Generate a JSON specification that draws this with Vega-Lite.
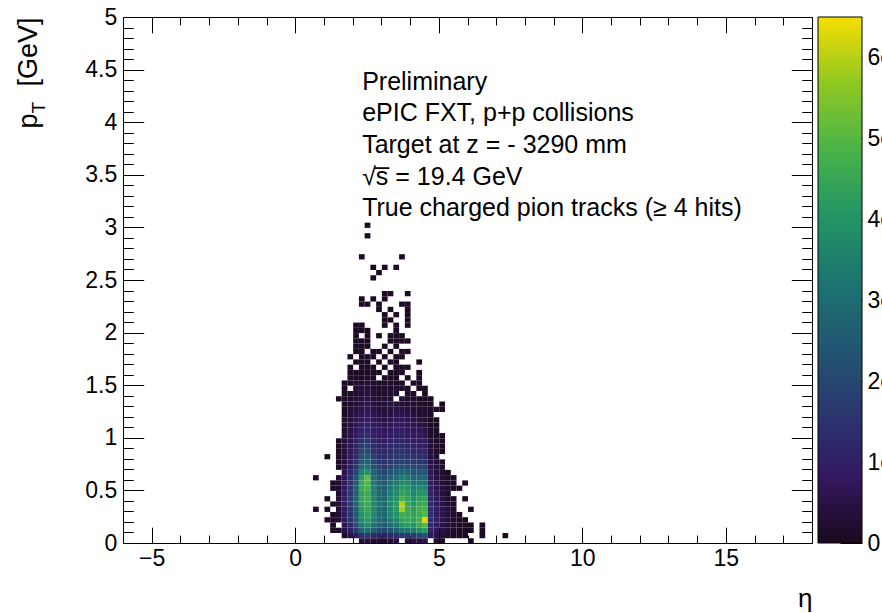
{
"$schema":"https://vega.github.io/schema/vega-lite/v6.json",
"autosize":{"type":"none"},
"padding":{"left":123,"top":17,"right":70,"bottom":70},
"background":"white",
"width":689,"height":526,
"config":{
 "font":"Liberation Sans",
 "view":{"stroke":"black","strokeWidth":1},
 "axis":{"grid":false,"domain":false,"tickColor":"black","tickWidth":1,"labelColor":"black","labelFont":"Liberation Sans","labelFontSize":23,"titleColor":"black","titleFont":"Liberation Sans","titleFontWeight":"normal","labelOverlap":false,"labelFlush":false,"labelBound":false}
},
"data":{"values":[
{"e":2.2,"p":0,"n":3},{"e":2.4,"p":0,"n":4},{"e":2.6,"p":0,"n":2},{"e":2.8,"p":0,"n":3},{"e":3,"p":0,"n":2},{"e":3.2,"p":0,"n":3},{"e":3.4,"p":0,"n":4},{"e":3.8,"p":0,"n":3},{"e":4,"p":0,"n":5},{"e":4.2,"p":0,"n":4},{"e":4.4,"p":0,"n":6},{"e":4.8,"p":0,"n":2},{"e":5,"p":0,"n":1},{"e":6,"p":0,"n":1},
{"e":1.6,"p":0.05,"n":2},{"e":1.8,"p":0.05,"n":5},{"e":2,"p":0.05,"n":8},{"e":2.2,"p":0.05,"n":14},{"e":2.4,"p":0.05,"n":16},{"e":2.6,"p":0.05,"n":13},{"e":2.8,"p":0.05,"n":11},{"e":3,"p":0.05,"n":10},{"e":3.2,"p":0.05,"n":12},{"e":3.4,"p":0.05,"n":14},{"e":3.6,"p":0.05,"n":17},{"e":3.8,"p":0.05,"n":16},{"e":4,"p":0.05,"n":18},{"e":4.2,"p":0.05,"n":20},{"e":4.4,"p":0.05,"n":22},{"e":4.6,"p":0.05,"n":7},{"e":4.8,"p":0.05,"n":5},{"e":5,"p":0.05,"n":3},{"e":5.2,"p":0.05,"n":2},{"e":5.4,"p":0.05,"n":1},{"e":5.6,"p":0.05,"n":1},{"e":5.8,"p":0.05,"n":1},{"e":6.4,"p":0.05,"n":1},{"e":7.2,"p":0.05,"n":1},
{"e":1.2,"p":0.1,"n":1},{"e":1.4,"p":0.1,"n":2},{"e":1.6,"p":0.1,"n":5},{"e":1.8,"p":0.1,"n":10},{"e":2,"p":0.1,"n":18},{"e":2.2,"p":0.1,"n":28},{"e":2.4,"p":0.1,"n":32},{"e":2.6,"p":0.1,"n":26},{"e":2.8,"p":0.1,"n":22},{"e":3,"p":0.1,"n":20},{"e":3.2,"p":0.1,"n":24},{"e":3.4,"p":0.1,"n":27},{"e":3.6,"p":0.1,"n":32},{"e":3.8,"p":0.1,"n":33},{"e":4,"p":0.1,"n":34},{"e":4.2,"p":0.1,"n":38},{"e":4.4,"p":0.1,"n":42},{"e":4.6,"p":0.1,"n":11},{"e":4.8,"p":0.1,"n":7},{"e":5,"p":0.1,"n":5},{"e":5.2,"p":0.1,"n":3},{"e":5.4,"p":0.1,"n":2},{"e":5.6,"p":0.1,"n":1},{"e":5.8,"p":0.1,"n":1},{"e":6,"p":0.1,"n":1},{"e":6.4,"p":0.1,"n":1},
{"e":1.2,"p":0.15,"n":1},{"e":1.6,"p":0.15,"n":6},{"e":1.8,"p":0.15,"n":13},{"e":2,"p":0.15,"n":22},{"e":2.2,"p":0.15,"n":34},{"e":2.4,"p":0.15,"n":38},{"e":2.6,"p":0.15,"n":32},{"e":2.8,"p":0.15,"n":27},{"e":3,"p":0.15,"n":25},{"e":3.2,"p":0.15,"n":30},{"e":3.4,"p":0.15,"n":33},{"e":3.6,"p":0.15,"n":40},{"e":3.8,"p":0.15,"n":42},{"e":4,"p":0.15,"n":40},{"e":4.2,"p":0.15,"n":46},{"e":4.4,"p":0.15,"n":50},{"e":4.6,"p":0.15,"n":13},{"e":4.8,"p":0.15,"n":8},{"e":5,"p":0.15,"n":5},{"e":5.2,"p":0.15,"n":3},{"e":5.4,"p":0.15,"n":2},{"e":5.6,"p":0.15,"n":1},{"e":5.8,"p":0.15,"n":1},{"e":6,"p":0.15,"n":1},{"e":6.4,"p":0.15,"n":1},
{"e":1,"p":0.2,"n":1},{"e":1.2,"p":0.2,"n":1},{"e":1.4,"p":0.2,"n":3},{"e":1.6,"p":0.2,"n":8},{"e":1.8,"p":0.2,"n":15},{"e":2,"p":0.2,"n":25},{"e":2.2,"p":0.2,"n":38},{"e":2.4,"p":0.2,"n":42},{"e":2.6,"p":0.2,"n":35},{"e":2.8,"p":0.2,"n":29},{"e":3,"p":0.2,"n":27},{"e":3.2,"p":0.2,"n":34},{"e":3.4,"p":0.2,"n":37},{"e":3.6,"p":0.2,"n":44},{"e":3.8,"p":0.2,"n":46},{"e":4,"p":0.2,"n":43},{"e":4.2,"p":0.2,"n":48},{"e":4.4,"p":0.2,"n":63},{"e":4.6,"p":0.2,"n":14},{"e":4.8,"p":0.2,"n":9},{"e":5,"p":0.2,"n":6},{"e":5.2,"p":0.2,"n":3},{"e":5.4,"p":0.2,"n":2},{"e":5.6,"p":0.2,"n":1},{"e":5.8,"p":0.2,"n":1},
{"e":1.2,"p":0.25,"n":1},{"e":1.4,"p":0.25,"n":3},{"e":1.6,"p":0.25,"n":9},{"e":1.8,"p":0.25,"n":16},{"e":2,"p":0.25,"n":26},{"e":2.2,"p":0.25,"n":40},{"e":2.4,"p":0.25,"n":44},{"e":2.6,"p":0.25,"n":37},{"e":2.8,"p":0.25,"n":30},{"e":3,"p":0.25,"n":28},{"e":3.2,"p":0.25,"n":36},{"e":3.4,"p":0.25,"n":40},{"e":3.6,"p":0.25,"n":46},{"e":3.8,"p":0.25,"n":45},{"e":4,"p":0.25,"n":44},{"e":4.2,"p":0.25,"n":46},{"e":4.4,"p":0.25,"n":50},{"e":4.6,"p":0.25,"n":14},{"e":4.8,"p":0.25,"n":9},{"e":5,"p":0.25,"n":6},{"e":5.2,"p":0.25,"n":4},{"e":5.4,"p":0.25,"n":2},{"e":5.6,"p":0.25,"n":1},
{"e":0.6,"p":0.3,"n":1},{"e":1,"p":0.3,"n":1},{"e":1.4,"p":0.3,"n":3},{"e":1.6,"p":0.3,"n":9},{"e":1.8,"p":0.3,"n":17},{"e":2,"p":0.3,"n":27},{"e":2.2,"p":0.3,"n":42},{"e":2.4,"p":0.3,"n":45},{"e":2.6,"p":0.3,"n":38},{"e":2.8,"p":0.3,"n":30},{"e":3,"p":0.3,"n":29},{"e":3.2,"p":0.3,"n":37},{"e":3.4,"p":0.3,"n":42},{"e":3.6,"p":0.3,"n":58},{"e":3.8,"p":0.3,"n":46},{"e":4,"p":0.3,"n":42},{"e":4.2,"p":0.3,"n":47},{"e":4.4,"p":0.3,"n":48},{"e":4.6,"p":0.3,"n":14},{"e":4.8,"p":0.3,"n":9},{"e":5,"p":0.3,"n":6},{"e":5.2,"p":0.3,"n":3},{"e":5.4,"p":0.3,"n":2},{"e":6,"p":0.3,"n":1},
{"e":1.2,"p":0.35,"n":1},{"e":1.4,"p":0.35,"n":3},{"e":1.6,"p":0.35,"n":10},{"e":1.8,"p":0.35,"n":17},{"e":2,"p":0.35,"n":28},{"e":2.2,"p":0.35,"n":44},{"e":2.4,"p":0.35,"n":46},{"e":2.6,"p":0.35,"n":38},{"e":2.8,"p":0.35,"n":31},{"e":3,"p":0.35,"n":29},{"e":3.2,"p":0.35,"n":38},{"e":3.4,"p":0.35,"n":42},{"e":3.6,"p":0.35,"n":60},{"e":3.8,"p":0.35,"n":45},{"e":4,"p":0.35,"n":40},{"e":4.2,"p":0.35,"n":45},{"e":4.4,"p":0.35,"n":46},{"e":4.6,"p":0.35,"n":13},{"e":4.8,"p":0.35,"n":8},{"e":5,"p":0.35,"n":5},{"e":5.2,"p":0.35,"n":3},{"e":5.4,"p":0.35,"n":1},
{"e":1,"p":0.4,"n":1},{"e":1.4,"p":0.4,"n":3},{"e":1.6,"p":0.4,"n":10},{"e":1.8,"p":0.4,"n":17},{"e":2,"p":0.4,"n":28},{"e":2.2,"p":0.4,"n":45},{"e":2.4,"p":0.4,"n":47},{"e":2.6,"p":0.4,"n":37},{"e":2.8,"p":0.4,"n":30},{"e":3,"p":0.4,"n":28},{"e":3.2,"p":0.4,"n":37},{"e":3.4,"p":0.4,"n":40},{"e":3.6,"p":0.4,"n":48},{"e":3.8,"p":0.4,"n":44},{"e":4,"p":0.4,"n":39},{"e":4.2,"p":0.4,"n":43},{"e":4.4,"p":0.4,"n":44},{"e":4.6,"p":0.4,"n":12},{"e":4.8,"p":0.4,"n":8},{"e":5,"p":0.4,"n":5},{"e":5.2,"p":0.4,"n":2},{"e":5.4,"p":0.4,"n":1},{"e":5.8,"p":0.4,"n":1},
{"e":1.4,"p":0.45,"n":2},{"e":1.6,"p":0.45,"n":9},{"e":1.8,"p":0.45,"n":17},{"e":2,"p":0.45,"n":28},{"e":2.2,"p":0.45,"n":44},{"e":2.4,"p":0.45,"n":46},{"e":2.6,"p":0.45,"n":36},{"e":2.8,"p":0.45,"n":29},{"e":3,"p":0.45,"n":27},{"e":3.2,"p":0.45,"n":35},{"e":3.4,"p":0.45,"n":38},{"e":3.6,"p":0.45,"n":44},{"e":3.8,"p":0.45,"n":42},{"e":4,"p":0.45,"n":37},{"e":4.2,"p":0.45,"n":40},{"e":4.4,"p":0.45,"n":40},{"e":4.6,"p":0.45,"n":11},{"e":4.8,"p":0.45,"n":7},{"e":5,"p":0.45,"n":4},{"e":5.2,"p":0.45,"n":2},
{"e":1.2,"p":0.5,"n":1},{"e":1.4,"p":0.5,"n":2},{"e":1.6,"p":0.5,"n":9},{"e":1.8,"p":0.5,"n":16},{"e":2,"p":0.5,"n":27},{"e":2.2,"p":0.5,"n":46},{"e":2.4,"p":0.5,"n":48},{"e":2.6,"p":0.5,"n":35},{"e":2.8,"p":0.5,"n":28},{"e":3,"p":0.5,"n":26},{"e":3.2,"p":0.5,"n":33},{"e":3.4,"p":0.5,"n":36},{"e":3.6,"p":0.5,"n":42},{"e":3.8,"p":0.5,"n":40},{"e":4,"p":0.5,"n":35},{"e":4.2,"p":0.5,"n":37},{"e":4.4,"p":0.5,"n":36},{"e":4.6,"p":0.5,"n":10},{"e":4.8,"p":0.5,"n":6},{"e":5,"p":0.5,"n":4},{"e":5.2,"p":0.5,"n":2},{"e":5.4,"p":0.5,"n":1},{"e":5.6,"p":0.5,"n":1},
{"e":1.2,"p":0.55,"n":1},{"e":1.4,"p":0.55,"n":2},{"e":1.6,"p":0.55,"n":8},{"e":1.8,"p":0.55,"n":15},{"e":2,"p":0.55,"n":26},{"e":2.2,"p":0.55,"n":45},{"e":2.4,"p":0.55,"n":50},{"e":2.6,"p":0.55,"n":34},{"e":2.8,"p":0.55,"n":27},{"e":3,"p":0.55,"n":24},{"e":3.2,"p":0.55,"n":31},{"e":3.4,"p":0.55,"n":33},{"e":3.6,"p":0.55,"n":38},{"e":3.8,"p":0.55,"n":37},{"e":4,"p":0.55,"n":32},{"e":4.2,"p":0.55,"n":33},{"e":4.4,"p":0.55,"n":32},{"e":4.6,"p":0.55,"n":9},{"e":4.8,"p":0.55,"n":6},{"e":5,"p":0.55,"n":3},{"e":5.2,"p":0.55,"n":2},{"e":5.4,"p":0.55,"n":1},{"e":5.8,"p":0.55,"n":1},
{"e":0.6,"p":0.6,"n":1},{"e":1.4,"p":0.6,"n":2},{"e":1.6,"p":0.6,"n":7},{"e":1.8,"p":0.6,"n":14},{"e":2,"p":0.6,"n":24},{"e":2.2,"p":0.6,"n":42},{"e":2.4,"p":0.6,"n":52},{"e":2.6,"p":0.6,"n":32},{"e":2.8,"p":0.6,"n":25},{"e":3,"p":0.6,"n":22},{"e":3.2,"p":0.6,"n":28},{"e":3.4,"p":0.6,"n":30},{"e":3.6,"p":0.6,"n":34},{"e":3.8,"p":0.6,"n":33},{"e":4,"p":0.6,"n":28},{"e":4.2,"p":0.6,"n":29},{"e":4.4,"p":0.6,"n":28},{"e":4.6,"p":0.6,"n":8},{"e":4.8,"p":0.6,"n":5},{"e":5,"p":0.6,"n":3},{"e":5.2,"p":0.6,"n":1},{"e":5.4,"p":0.6,"n":1},
{"e":1.6,"p":0.65,"n":6},{"e":1.8,"p":0.65,"n":12},{"e":2,"p":0.65,"n":20},{"e":2.2,"p":0.65,"n":36},{"e":2.4,"p":0.65,"n":40},{"e":2.6,"p":0.65,"n":28},{"e":2.8,"p":0.65,"n":22},{"e":3,"p":0.65,"n":19},{"e":3.2,"p":0.65,"n":24},{"e":3.4,"p":0.65,"n":26},{"e":3.6,"p":0.65,"n":28},{"e":3.8,"p":0.65,"n":27},{"e":4,"p":0.65,"n":24},{"e":4.2,"p":0.65,"n":25},{"e":4.4,"p":0.65,"n":23},{"e":4.6,"p":0.65,"n":7},{"e":4.8,"p":0.65,"n":4},{"e":5,"p":0.65,"n":2},{"e":5.2,"p":0.65,"n":1},
{"e":1.4,"p":0.7,"n":1},{"e":1.6,"p":0.7,"n":5},{"e":1.8,"p":0.7,"n":10},{"e":2,"p":0.7,"n":17},{"e":2.2,"p":0.7,"n":30},{"e":2.4,"p":0.7,"n":32},{"e":2.6,"p":0.7,"n":24},{"e":2.8,"p":0.7,"n":19},{"e":3,"p":0.7,"n":16},{"e":3.2,"p":0.7,"n":20},{"e":3.4,"p":0.7,"n":22},{"e":3.6,"p":0.7,"n":23},{"e":3.8,"p":0.7,"n":22},{"e":4,"p":0.7,"n":20},{"e":4.2,"p":0.7,"n":20},{"e":4.4,"p":0.7,"n":19},{"e":4.6,"p":0.7,"n":6},{"e":4.8,"p":0.7,"n":4},{"e":5,"p":0.7,"n":2},
{"e":1.4,"p":0.75,"n":1},{"e":1.6,"p":0.75,"n":4},{"e":1.8,"p":0.75,"n":9},{"e":2,"p":0.75,"n":14},{"e":2.2,"p":0.75,"n":26},{"e":2.4,"p":0.75,"n":28},{"e":2.6,"p":0.75,"n":20},{"e":2.8,"p":0.75,"n":16},{"e":3,"p":0.75,"n":14},{"e":3.2,"p":0.75,"n":17},{"e":3.4,"p":0.75,"n":18},{"e":3.6,"p":0.75,"n":19},{"e":3.8,"p":0.75,"n":18},{"e":4,"p":0.75,"n":16},{"e":4.2,"p":0.75,"n":16},{"e":4.4,"p":0.75,"n":15},{"e":4.6,"p":0.75,"n":5},{"e":4.8,"p":0.75,"n":3},{"e":5,"p":0.75,"n":2},
{"e":1,"p":0.8,"n":1},{"e":1.4,"p":0.8,"n":1},{"e":1.6,"p":0.8,"n":4},{"e":1.8,"p":0.8,"n":8},{"e":2,"p":0.8,"n":13},{"e":2.2,"p":0.8,"n":23},{"e":2.4,"p":0.8,"n":25},{"e":2.6,"p":0.8,"n":18},{"e":2.8,"p":0.8,"n":14},{"e":3,"p":0.8,"n":13},{"e":3.2,"p":0.8,"n":15},{"e":3.4,"p":0.8,"n":16},{"e":3.6,"p":0.8,"n":17},{"e":3.8,"p":0.8,"n":16},{"e":4,"p":0.8,"n":14},{"e":4.2,"p":0.8,"n":14},{"e":4.4,"p":0.8,"n":13},{"e":4.6,"p":0.8,"n":4},{"e":4.8,"p":0.8,"n":2},
{"e":1.4,"p":0.85,"n":1},{"e":1.6,"p":0.85,"n":4},{"e":1.8,"p":0.85,"n":8},{"e":2,"p":0.85,"n":12},{"e":2.2,"p":0.85,"n":20},{"e":2.4,"p":0.85,"n":22},{"e":2.6,"p":0.85,"n":16},{"e":2.8,"p":0.85,"n":13},{"e":3,"p":0.85,"n":12},{"e":3.2,"p":0.85,"n":14},{"e":3.4,"p":0.85,"n":15},{"e":3.6,"p":0.85,"n":15},{"e":3.8,"p":0.85,"n":14},{"e":4,"p":0.85,"n":13},{"e":4.2,"p":0.85,"n":12},{"e":4.4,"p":0.85,"n":12},{"e":4.6,"p":0.85,"n":4},{"e":4.8,"p":0.85,"n":2},{"e":5,"p":0.85,"n":1},
{"e":1.4,"p":0.9,"n":1},{"e":1.6,"p":0.9,"n":4},{"e":1.8,"p":0.9,"n":7},{"e":2,"p":0.9,"n":11},{"e":2.2,"p":0.9,"n":18},{"e":2.4,"p":0.9,"n":19},{"e":2.6,"p":0.9,"n":14},{"e":2.8,"p":0.9,"n":11},{"e":3,"p":0.9,"n":10},{"e":3.2,"p":0.9,"n":12},{"e":3.4,"p":0.9,"n":13},{"e":3.6,"p":0.9,"n":13},{"e":3.8,"p":0.9,"n":12},{"e":4,"p":0.9,"n":11},{"e":4.2,"p":0.9,"n":10},{"e":4.4,"p":0.9,"n":10},{"e":4.6,"p":0.9,"n":3},{"e":4.8,"p":0.9,"n":2},{"e":5,"p":0.9,"n":1},
{"e":1.4,"p":0.95,"n":1},{"e":1.6,"p":0.95,"n":3},{"e":1.8,"p":0.95,"n":6},{"e":2,"p":0.95,"n":10},{"e":2.2,"p":0.95,"n":15},{"e":2.4,"p":0.95,"n":16},{"e":2.6,"p":0.95,"n":12},{"e":2.8,"p":0.95,"n":10},{"e":3,"p":0.95,"n":9},{"e":3.2,"p":0.95,"n":11},{"e":3.4,"p":0.95,"n":11},{"e":3.6,"p":0.95,"n":11},{"e":3.8,"p":0.95,"n":10},{"e":4,"p":0.95,"n":9},{"e":4.2,"p":0.95,"n":9},{"e":4.4,"p":0.95,"n":8},{"e":4.6,"p":0.95,"n":3},{"e":4.8,"p":0.95,"n":1},{"e":5,"p":0.95,"n":1},
{"e":1.6,"p":1,"n":3},{"e":1.8,"p":1,"n":6},{"e":2,"p":1,"n":9},{"e":2.2,"p":1,"n":13},{"e":2.4,"p":1,"n":14},{"e":2.6,"p":1,"n":11},{"e":2.8,"p":1,"n":9},{"e":3,"p":1,"n":8},{"e":3.2,"p":1,"n":9},{"e":3.4,"p":1,"n":10},{"e":3.6,"p":1,"n":10},{"e":3.8,"p":1,"n":9},{"e":4,"p":1,"n":8},{"e":4.2,"p":1,"n":8},{"e":4.4,"p":1,"n":7},{"e":4.6,"p":1,"n":2},{"e":4.8,"p":1,"n":1},{"e":5,"p":1,"n":1},
{"e":1.6,"p":1.05,"n":2},{"e":1.8,"p":1.05,"n":5},{"e":2,"p":1.05,"n":8},{"e":2.2,"p":1.05,"n":11},{"e":2.4,"p":1.05,"n":12},{"e":2.6,"p":1.05,"n":10},{"e":2.8,"p":1.05,"n":8},{"e":3,"p":1.05,"n":7},{"e":3.2,"p":1.05,"n":8},{"e":3.4,"p":1.05,"n":9},{"e":3.6,"p":1.05,"n":9},{"e":3.8,"p":1.05,"n":8},{"e":4,"p":1.05,"n":7},{"e":4.2,"p":1.05,"n":7},{"e":4.4,"p":1.05,"n":5},{"e":4.6,"p":1.05,"n":2},{"e":4.8,"p":1.05,"n":1},
{"e":1.6,"p":1.1,"n":2},{"e":1.8,"p":1.1,"n":4},{"e":2,"p":1.1,"n":7},{"e":2.2,"p":1.1,"n":10},{"e":2.4,"p":1.1,"n":11},{"e":2.6,"p":1.1,"n":8},{"e":2.8,"p":1.1,"n":7},{"e":3,"p":1.1,"n":6},{"e":3.2,"p":1.1,"n":7},{"e":3.4,"p":1.1,"n":8},{"e":3.6,"p":1.1,"n":8},{"e":3.8,"p":1.1,"n":7},{"e":4,"p":1.1,"n":6},{"e":4.2,"p":1.1,"n":5},{"e":4.4,"p":1.1,"n":4},{"e":4.6,"p":1.1,"n":1},{"e":4.8,"p":1.1,"n":1},
{"e":1.6,"p":1.15,"n":2},{"e":1.8,"p":1.15,"n":3},{"e":2,"p":1.15,"n":6},{"e":2.2,"p":1.15,"n":8},{"e":2.4,"p":1.15,"n":9},{"e":2.6,"p":1.15,"n":7},{"e":2.8,"p":1.15,"n":6},{"e":3,"p":1.15,"n":5},{"e":3.2,"p":1.15,"n":6},{"e":3.4,"p":1.15,"n":7},{"e":3.6,"p":1.15,"n":7},{"e":3.8,"p":1.15,"n":6},{"e":4,"p":1.15,"n":5},{"e":4.2,"p":1.15,"n":4},{"e":4.4,"p":1.15,"n":3},{"e":4.6,"p":1.15,"n":1},{"e":4.8,"p":1.15,"n":1},
{"e":1.6,"p":1.2,"n":1},{"e":1.8,"p":1.2,"n":3},{"e":2,"p":1.2,"n":5},{"e":2.2,"p":1.2,"n":7},{"e":2.4,"p":1.2,"n":8},{"e":2.6,"p":1.2,"n":6},{"e":2.8,"p":1.2,"n":5},{"e":3,"p":1.2,"n":4},{"e":3.2,"p":1.2,"n":5},{"e":3.4,"p":1.2,"n":6},{"e":3.6,"p":1.2,"n":6},{"e":3.8,"p":1.2,"n":5},{"e":4,"p":1.2,"n":4},{"e":4.2,"p":1.2,"n":3},{"e":4.4,"p":1.2,"n":3},{"e":4.6,"p":1.2,"n":1},
{"e":1.6,"p":1.25,"n":1},{"e":1.8,"p":1.25,"n":3},{"e":2,"p":1.25,"n":4},{"e":2.2,"p":1.25,"n":6},{"e":2.4,"p":1.25,"n":6},{"e":2.6,"p":1.25,"n":5},{"e":2.8,"p":1.25,"n":4},{"e":3,"p":1.25,"n":4},{"e":3.2,"p":1.25,"n":4},{"e":3.4,"p":1.25,"n":5},{"e":3.6,"p":1.25,"n":5},{"e":3.8,"p":1.25,"n":4},{"e":4,"p":1.25,"n":3},{"e":4.2,"p":1.25,"n":3},{"e":4.4,"p":1.25,"n":2},{"e":4.6,"p":1.25,"n":1},{"e":4.8,"p":1.25,"n":1},{"e":5,"p":1.25,"n":1},
{"e":1.6,"p":1.3,"n":1},{"e":1.8,"p":1.3,"n":2},{"e":2,"p":1.3,"n":3},{"e":2.2,"p":1.3,"n":5},{"e":2.4,"p":1.3,"n":6},{"e":2.6,"p":1.3,"n":4},{"e":2.8,"p":1.3,"n":3},{"e":3,"p":1.3,"n":3},{"e":3.2,"p":1.3,"n":4},{"e":3.4,"p":1.3,"n":4},{"e":3.6,"p":1.3,"n":3},{"e":3.8,"p":1.3,"n":3},{"e":4,"p":1.3,"n":2},{"e":4.2,"p":1.3,"n":2},{"e":4.4,"p":1.3,"n":1},{"e":4.6,"p":1.3,"n":1},{"e":5,"p":1.3,"n":1},
{"e":1.4,"p":1.35,"n":1},{"e":1.6,"p":1.35,"n":1},{"e":1.8,"p":1.35,"n":2},{"e":2,"p":1.35,"n":3},{"e":2.2,"p":1.35,"n":4},{"e":2.4,"p":1.35,"n":5},{"e":2.6,"p":1.35,"n":3},{"e":2.8,"p":1.35,"n":3},{"e":3,"p":1.35,"n":3},{"e":3.2,"p":1.35,"n":3},{"e":3.6,"p":1.35,"n":3},{"e":3.8,"p":1.35,"n":2},{"e":4,"p":1.35,"n":2},{"e":4.2,"p":1.35,"n":1},{"e":4.4,"p":1.35,"n":1},{"e":4.6,"p":1.35,"n":1},
{"e":1.6,"p":1.4,"n":1},{"e":1.8,"p":1.4,"n":1},{"e":2,"p":1.4,"n":2},{"e":2.2,"p":1.4,"n":3},{"e":2.4,"p":1.4,"n":4},{"e":2.6,"p":1.4,"n":3},{"e":2.8,"p":1.4,"n":2},{"e":3,"p":1.4,"n":2},{"e":3.2,"p":1.4,"n":3},{"e":3.4,"p":1.4,"n":2},{"e":3.8,"p":1.4,"n":2},{"e":4,"p":1.4,"n":1},{"e":4.4,"p":1.4,"n":1},
{"e":1.6,"p":1.45,"n":1},{"e":2,"p":1.45,"n":2},{"e":2.2,"p":1.45,"n":3},{"e":2.4,"p":1.45,"n":3},{"e":2.6,"p":1.45,"n":2},{"e":2.8,"p":1.45,"n":1},{"e":3,"p":1.45,"n":2},{"e":3.2,"p":1.45,"n":2},{"e":3.4,"p":1.45,"n":2},{"e":3.6,"p":1.45,"n":1},{"e":3.8,"p":1.45,"n":1},{"e":4.2,"p":1.45,"n":1},{"e":4.4,"p":1.45,"n":1},
{"e":1.6,"p":1.5,"n":1},{"e":1.8,"p":1.5,"n":1},{"e":2,"p":1.5,"n":2},{"e":2.2,"p":1.5,"n":2},{"e":2.4,"p":1.5,"n":3},{"e":2.6,"p":1.5,"n":2},{"e":2.8,"p":1.5,"n":1},{"e":3,"p":1.5,"n":1},{"e":3.2,"p":1.5,"n":2},{"e":3.4,"p":1.5,"n":1},{"e":3.6,"p":1.5,"n":1},{"e":4,"p":1.5,"n":1},{"e":4.2,"p":1.5,"n":1},
{"e":1.8,"p":1.55,"n":1},{"e":2,"p":1.55,"n":1},{"e":2.2,"p":1.55,"n":1},{"e":2.4,"p":1.55,"n":2},{"e":2.6,"p":1.55,"n":1},{"e":3,"p":1.55,"n":1},{"e":3.2,"p":1.55,"n":1},{"e":3.4,"p":1.55,"n":1},{"e":3.8,"p":1.55,"n":1},{"e":4.2,"p":1.55,"n":1},
{"e":1.8,"p":1.6,"n":1},{"e":2,"p":1.6,"n":1},{"e":2.2,"p":1.6,"n":1},{"e":2.4,"p":1.6,"n":1},{"e":2.6,"p":1.6,"n":1},{"e":2.8,"p":1.6,"n":1},{"e":3.2,"p":1.6,"n":1},{"e":3.4,"p":1.6,"n":1},{"e":3.6,"p":1.6,"n":1},{"e":4.2,"p":1.6,"n":1},
{"e":1.8,"p":1.65,"n":1},{"e":2.2,"p":1.65,"n":1},{"e":2.4,"p":1.65,"n":1},{"e":2.6,"p":1.65,"n":1},{"e":3,"p":1.65,"n":1},{"e":3.4,"p":1.65,"n":1},{"e":3.6,"p":1.65,"n":1},{"e":3.8,"p":1.65,"n":1},
{"e":2,"p":1.7,"n":1},{"e":2.2,"p":1.7,"n":1},{"e":2.4,"p":1.7,"n":1},{"e":2.8,"p":1.7,"n":1},{"e":3.2,"p":1.7,"n":1},{"e":3.4,"p":1.7,"n":1},{"e":4.2,"p":1.7,"n":1},
{"e":1.8,"p":1.75,"n":1},{"e":2.2,"p":1.75,"n":1},{"e":2.4,"p":1.75,"n":1},{"e":2.6,"p":1.75,"n":1},{"e":3,"p":1.75,"n":1},{"e":3.4,"p":1.75,"n":1},{"e":3.6,"p":1.75,"n":1},
{"e":2,"p":1.8,"n":1},{"e":2.2,"p":1.8,"n":1},{"e":2.6,"p":1.8,"n":1},{"e":2.8,"p":1.8,"n":1},{"e":3.2,"p":1.8,"n":1},{"e":3.6,"p":1.8,"n":1},{"e":3.8,"p":1.8,"n":1},
{"e":2,"p":1.85,"n":1},{"e":2.2,"p":1.85,"n":1},{"e":2.4,"p":1.85,"n":1},{"e":3,"p":1.85,"n":1},{"e":3.4,"p":1.85,"n":1},
{"e":2,"p":1.9,"n":1},{"e":2.2,"p":1.9,"n":1},{"e":2.4,"p":1.9,"n":1},{"e":3.2,"p":1.9,"n":1},{"e":3.4,"p":1.9,"n":1},{"e":3.6,"p":1.9,"n":1},{"e":3.8,"p":1.9,"n":1},
{"e":2,"p":1.95,"n":1},{"e":2.4,"p":1.95,"n":1},{"e":2.8,"p":1.95,"n":1},{"e":3.2,"p":1.95,"n":1},{"e":3.4,"p":1.95,"n":1},{"e":3.6,"p":1.95,"n":1},
{"e":2,"p":2,"n":1},{"e":2.2,"p":2,"n":1},{"e":2.4,"p":2,"n":1},{"e":3.4,"p":2,"n":1},
{"e":2,"p":2.05,"n":1},{"e":2.2,"p":2.05,"n":1},{"e":3,"p":2.05,"n":1},{"e":3.4,"p":2.05,"n":1},{"e":3.8,"p":2.05,"n":1},
{"e":3,"p":2.1,"n":1},{"e":3.2,"p":2.1,"n":1},{"e":3.8,"p":2.1,"n":1},
{"e":3,"p":2.15,"n":1},{"e":3.4,"p":2.15,"n":1},{"e":3.8,"p":2.15,"n":1},
{"e":2.8,"p":2.2,"n":1},{"e":3.2,"p":2.2,"n":1},{"e":3.8,"p":2.2,"n":1},
{"e":2.2,"p":2.25,"n":1},{"e":2.4,"p":2.25,"n":1},{"e":2.8,"p":2.25,"n":1},{"e":3.6,"p":2.25,"n":1},{"e":3.8,"p":2.25,"n":1},
{"e":2.2,"p":2.3,"n":1},{"e":2.6,"p":2.3,"n":1},{"e":3,"p":2.3,"n":1},
{"e":3,"p":2.35,"n":1},{"e":3.2,"p":2.35,"n":1},{"e":3.8,"p":2.35,"n":1},
{"e":2.6,"p":2.5,"n":1},{"e":2.8,"p":2.55,"n":1},
{"e":2.6,"p":2.6,"n":1},{"e":3,"p":2.6,"n":1},{"e":3.4,"p":2.6,"n":1},
{"e":2.2,"p":2.7,"n":1},{"e":3.6,"p":2.7,"n":1},
{"e":2.4,"p":2.9,"n":1},{"e":2.4,"p":3,"n":1}
]},
"layer":[
 {"mark":{"type":"rect","binSpacing":0},
  "encoding":{
   "x":{"field":"e","type":"quantitative","bin":{"binned":true,"step":0.2},"scale":{"domain":[-6,18],"nice":false,"zero":false},
     "axis":{"orient":"bottom","values":[-5,0,5,10,15],"format":"~g","tickSize":-15.8,"labelPadding":20,"title":"η","titleX":689,"titleY":63,"titleAlign":"right","titleBaseline":"alphabetic","titleFontSize":26,"titleAngle":0}},
   "y":{"field":"p","type":"quantitative","bin":{"binned":true,"step":0.05},"scale":{"domain":[0,5],"nice":false,"zero":false},
     "axis":{"orient":"left","values":[0,0.5,1,1.5,2,2.5,3,3.5,4,4.5,5],"format":"~g","tickSize":-20.7,"labelPadding":27,"title":"p\u2002\u2002[GeV]","titleAngle":270,"titleX":-87,"titleY":111,"titleAlign":"left","titleBaseline":"alphabetic","titleFontSize":27}},
   "color":{"field":"n","type":"quantitative","scale":{"domain":[0,65],"range":["#1a091e","#331860","#2b3770","#215772","#1c7670","#239665","#4ab448","#90c823","#f6de00"],"interpolate":"rgb"},"legend":null}
  }},
 {"transform":[{"filter":"datum.n < 0"}],
  "mark":{"type":"point","opacity":0},
  "encoding":{
   "x":{"field":"e","type":"quantitative","scale":{"domain":[-6,18],"nice":false,"zero":false},
     "axis":{"orient":"bottom","values":[-4,-3,-2,-1,1,2,3,4,6,7,8,9,11,12,13,14,16,17],"labels":false,"tickSize":-7.9,"title":null}},
   "y":{"field":"p","type":"quantitative","scale":{"domain":[0,5],"nice":false,"zero":false},
     "axis":{"orient":"left","values":[0.1,0.2,0.3,0.4,0.6,0.7,0.8,0.9,1.1,1.2,1.3,1.4,1.6,1.7,1.8,1.9,2.1,2.2,2.3,2.4,2.6,2.7,2.8,2.9,3.1,3.2,3.3,3.4,3.6,3.7,3.8,3.9,4.1,4.2,4.3,4.4,4.6,4.7,4.8,4.9],"labels":false,"tickSize":-10.3,"title":"T","titleAngle":270,"titleX":-79,"titleY":96,"titleAlign":"left","titleBaseline":"alphabetic","titleFontSize":19}}
  }},
 {"transform":[{"filter":"datum.n < 0"}],
  "mark":{"type":"point","opacity":0},
  "encoding":{
   "x":{"field":"e","type":"quantitative","scale":{"domain":[-6,18],"nice":false,"zero":false},
     "axis":{"orient":"top","values":[-5,0,5,10,15],"labels":false,"tickSize":-15.8,"title":null}},
   "y":{"field":"p","type":"quantitative","scale":{"domain":[0,5],"nice":false,"zero":false},
     "axis":{"orient":"right","values":[0,0.5,1,1.5,2,2.5,3,3.5,4,4.5,5],"labels":false,"tickSize":-20.7,"title":null}}
  }},
 {"transform":[{"filter":"datum.n < 0"}],
  "mark":{"type":"point","opacity":0},
  "encoding":{
   "x":{"field":"e","type":"quantitative","scale":{"domain":[-6,18],"nice":false,"zero":false},
     "axis":{"orient":"top","values":[-4,-3,-2,-1,1,2,3,4,6,7,8,9,11,12,13,14,16,17],"labels":false,"tickSize":-7.9,"title":null}},
   "y":{"field":"p","type":"quantitative","scale":{"domain":[0,5],"nice":false,"zero":false},
     "axis":{"orient":"right","values":[0.1,0.2,0.3,0.4,0.6,0.7,0.8,0.9,1.1,1.2,1.3,1.4,1.6,1.7,1.8,1.9,2.1,2.2,2.3,2.4,2.6,2.7,2.8,2.9,3.1,3.2,3.3,3.4,3.6,3.7,3.8,3.9,4.1,4.2,4.3,4.4,4.6,4.7,4.8,4.9],"labels":false,"tickSize":-10.3,"title":null}}
  }},
 {"data":{"values":[{}]},
  "mark":{"type":"text","align":"left","baseline":"alphabetic","fontSize":25,"lineHeight":31.7,"font":"Liberation Sans","color":"black"},
  "encoding":{
   "x":{"datum":2.33,"type":"quantitative","scale":{"domain":[-6,18],"nice":false,"zero":false},"axis":null},
   "y":{"datum":4.31,"type":"quantitative","scale":{"domain":[0,5],"nice":false,"zero":false},"axis":null},
   "text":{"value":["Preliminary","ePIC FXT, p+p collisions","Target at z = - 3290 mm","√s\u0305 = 19.4 GeV","True charged pion tracks (≥ 4 hits)"]}
  }},
 {"data":{"values":[{}]},
  "mark":{"type":"rect","clip":false,"stroke":"black","strokeWidth":1,"fill":{"gradient":"linear","x1":0,"y1":1,"x2":0,"y2":0,"stops":[{"offset":0,"color":"#1a091e"},{"offset":0.125,"color":"#331860"},{"offset":0.25,"color":"#2b3770"},{"offset":0.375,"color":"#215772"},{"offset":0.5,"color":"#1c7670"},{"offset":0.625,"color":"#239665"},{"offset":0.75,"color":"#4ab448"},{"offset":0.875,"color":"#90c823"},{"offset":1,"color":"#f6de00"}]}},
  "encoding":{
   "x":{"datum":18.209,"type":"quantitative","scale":{"domain":[-6,18],"nice":false,"zero":false},"axis":null},
   "x2":{"datum":19.742},
   "y":{"datum":0,"type":"quantitative","scale":{"domain":[0,65],"nice":false,"zero":false},"axis":{"orient":"right","offset":50,"values":[0,10,20,30,40,50,60],"format":"~g","tickSize":-22,"labelPadding":27,"title":null}},
   "y2":{"datum":65}
  }}
],
"resolve":{"axis":{"x":"independent","y":"independent"},"scale":{"y":"independent"}}
}
